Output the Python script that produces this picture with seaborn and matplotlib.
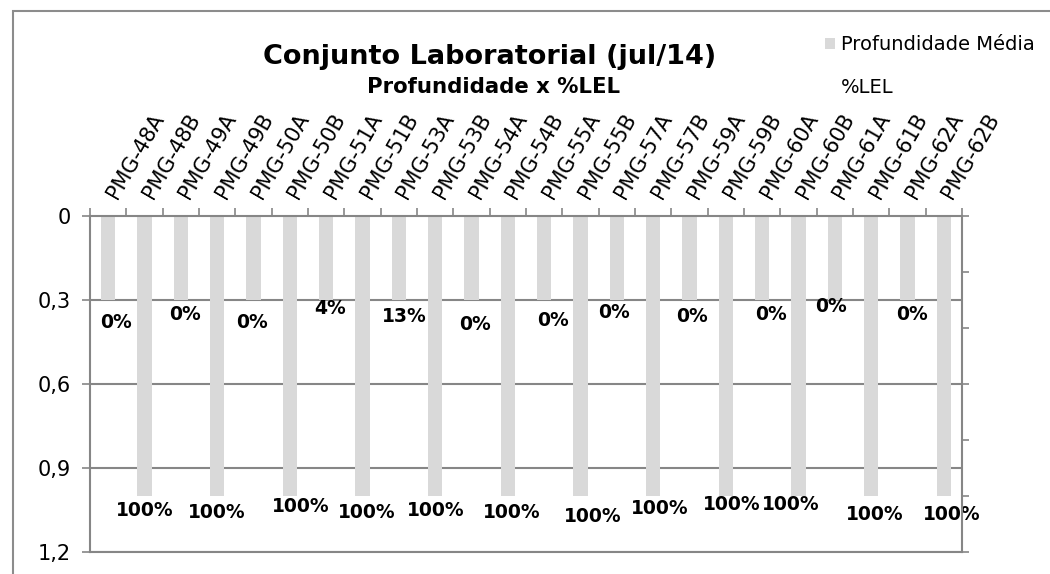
import numpy as np
import pandas as pd
import seaborn as sns
import matplotlib.pyplot as plt
from matplotlib.patches import Patch, Rectangle
from matplotlib.lines import Line2D

# data
pontos = ['PMG-48A', 'PMG-48B', 'PMG-49A', 'PMG-49B', 'PMG-50A', 'PMG-50B',
          'PMG-51A', 'PMG-51B', 'PMG-53A', 'PMG-53B', 'PMG-54A', 'PMG-54B',
          'PMG-55A', 'PMG-55B', 'PMG-57A', 'PMG-57B', 'PMG-59A', 'PMG-59B',
          'PMG-60A', 'PMG-60B', 'PMG-61A', 'PMG-61B', 'PMG-62A', 'PMG-62B']
profundidade = [0.3, 1.0, 0.3, 1.0, 0.3, 1.0, 0.3, 1.0, 0.3, 1.0, 0.3, 1.0,
                0.3, 1.0, 0.3, 1.0, 0.3, 1.0, 0.3, 1.0, 0.3, 1.0, 0.3, 1.0]
lel = [0, 100, 0, 100, 0, 100, 4, 100, 13, 100, 0, 100,
       0, 100, 0, 100, 0, 100, 0, 100, 0, 100, 0, 100]
y_ticks = [0, 0.3, 0.6, 0.9, 1.2]
y_tick_labels = ['0', '0,3', '0,6', '0,9', '1,2']

# label nudges (pixels) - labels were dragged around by hand in the original
nudge_x = [8, 0, 4, 0, -1, 11, 4, 4, 5, 1, 4, 4, 9, 12, -3, 7, 3, 6, 9, -8, -4, 4, 5, 8]
nudge_y = [22, 14, 15, 16, 23, 11, 8, 16, 17, 15, 24, 16, 20, 20, 12, 12, 17, 9, 15, 8, 7, 18, 15, 18]

df = pd.DataFrame({'ponto': pontos, 'prof': profundidade, 'lel': lel})

sns.set_style('white')
plt.rcParams['font.family'] = ['DejaVu Sans']
plt.rcParams['text.color'] = 'black'
plt.rcParams['xtick.labelcolor'] = 'black'
plt.rcParams['ytick.labelcolor'] = 'black'

GRAY = '#868686'
BAR = '#d9d9d9'

fig = plt.figure(figsize=(10.5, 5.74), dpi=100)
ax = fig.add_axes([90 / 1050, 22 / 574, 872 / 1050, 336 / 574])

sns.barplot(df, x='ponto', y='prof', color=BAR, saturation=1, width=0.39,
            linewidth=0, ax=ax)

ax.set_ylim(1.2, 0)
ax.set_xlim(-0.5, len(pontos) - 0.5)
ax.set_xlabel('')
ax.set_ylabel('')
ax.set_axisbelow(True)

# gridlines
for v in y_ticks[1:]:
    ax.axhline(v, color=GRAY, lw=1.5, zorder=0)

ax.set_yticks(y_ticks)
ax.set_yticklabels(y_tick_labels)
ax.tick_params(axis='y', direction='out', length=6, width=1.2, color=GRAY,
               labelsize=15, pad=8, left=True)

# category axis on top; labels start a little right of the bar centre
ax.xaxis.tick_top()
ax.set_xticks(np.arange(len(pontos)) + 0.33)
ax.set_xticklabels(pontos, rotation=60, ha='left', va='bottom',
                   rotation_mode='anchor', fontsize=15)
ax.set_xticks(np.arange(-0.5, len(pontos), 1), minor=True)
ax.tick_params(axis='x', which='major', length=0, pad=10)
ax.tick_params(axis='x', which='minor', direction='out', length=6, width=1.2,
               color=GRAY, top=True, bottom=False)

for s in ['top', 'left', 'bottom']:
    ax.spines[s].set_color(GRAY)
    ax.spines[s].set_linewidth(1.5)
ax.spines['right'].set_visible(False)

# secondary axis (no labels)
ax2 = ax.twinx()
ax2.set_ylim(1.2, 0)
ax2.set_yticks(np.arange(0, 1.21, 0.2))
ax2.set_yticklabels([])
ax2.tick_params(axis='y', direction='out', length=5, width=1.2, color=GRAY)
for s in ['top', 'left', 'bottom']:
    ax2.spines[s].set_visible(False)
ax2.spines['right'].set_color(GRAY)
ax2.spines['right'].set_linewidth(1.5)

# %LEL data labels
for i, (p, v) in enumerate(zip(profundidade, lel)):
    ax.annotate(f'{v}%', xy=(i, p), xytext=(nudge_x[i], -nudge_y[i]),
                textcoords='offset pixels', ha='center', va='center',
                fontsize=13.5, fontweight='bold', color='black', zorder=5,
                annotation_clip=False)

fig.text(490 / 1050, 1 - 57 / 574, 'Conjunto Laboratorial (jul/14)',
         ha='center', va='center', fontsize=19.5, fontweight='bold')
fig.text(494 / 1050, 1 - 87 / 574, 'Profundidade x %LEL',
         ha='center', va='center', fontsize=15.3, fontweight='bold')

handles = [Patch(facecolor=BAR, edgecolor='none'),
           Line2D([], [], linestyle='none')]
fig.legend(handles, ['Profundidade Média', '%LEL'], loc='upper left',
           bbox_to_anchor=(825 / 1050, 1 - 35 / 574), frameon=False,
           fontsize=14, borderpad=0, borderaxespad=0, handlelength=0.5,
           handleheight=0.5, handletextpad=0.3, labelspacing=1.25)

# outer chart frame
fig.patches.append(Rectangle((13 / 1050, -0.05), 1.1, 1 - 11 / 574 + 0.05,
                             transform=fig.transFigure, fill=False,
                             edgecolor='#8c8c8c', lw=1.5, zorder=-1))

fig.savefig('out.png', dpi=100)
